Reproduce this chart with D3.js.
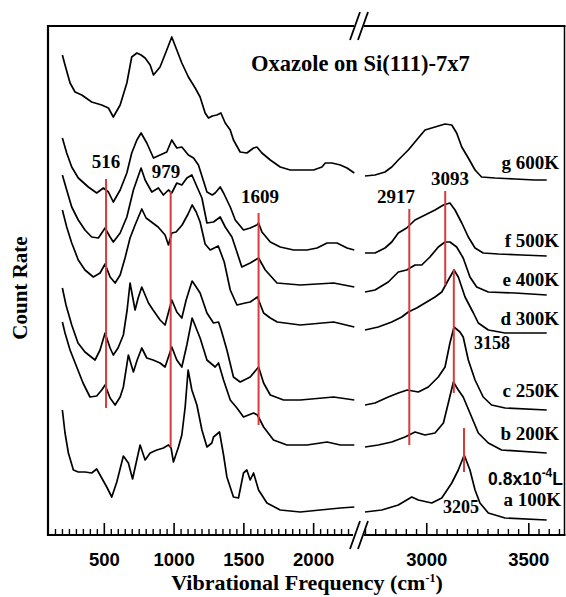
<!DOCTYPE html>
<html><head><meta charset="utf-8">
<script src="https://cdn.jsdelivr.net/npm/d3@7"></script>
<style>
html,body{margin:0;padding:0;background:#fff;}
svg{display:block;}
</style></head>
<body>
<svg id="chart" width="566" height="597"></svg>
<script>
// ---------- data (frequency cm^-1, count rate in arbitrary units) ----------
const spectrumG = [[203,480],[222,470],[258,452],[294,443],[342,440],[413,433],[485,430],[533,427],[568,418],[617,430],[665,452],[700,478],[737,482],[767,480],[796,477],[832,470],[856,460],[903,468],[951,485],[987,498],[1023,485],[1059,472],[1106,458],[1155,447],[1190,438],[1226,422],[1250,417],[1277,419],[1310,420],[1339,422],[1370,412],[1406,405],[1429,395],[1477,383],[1525,382],[1573,387],[1597,388],[1633,382],[1693,375],[1764,368],[1836,365],[1908,365],[2003,365],[2063,368],[2087,372],[2135,372],[2195,370],[2243,367],[2295,362],
[2700,359],[2749,360],[2798,363],[2831,368],[2863,375],[2912,385],[2961,397],[2994,405],[3043,408],[3092,411],[3125,410],[3149,402],[3174,388],[3206,377],[3239,365],[3271,358],[3337,357],[3435,356],[3532,355],[3590,355]];

const spectrumF = [[203,397],[234,382],[270,368],[317,357],[389,348],[449,342],[497,347],[533,343],[568,333],[617,345],[665,362],[700,382],[737,395],[767,402],[808,392],[856,377],[903,380],[951,383],[987,395],[1023,387],[1059,388],[1106,380],[1143,377],[1178,370],[1212,355],[1239,343],[1277,340],[1298,342],[1334,348],[1358,342],[1406,328],[1442,315],[1501,305],[1549,307],[1597,310],[1609,312],[1633,303],[1693,293],[1764,288],[1860,285],[1956,285],[2028,287],[2100,292],[2171,292],[2243,287],[2295,285],
[2700,282],[2749,282],[2798,287],[2831,293],[2863,302],[2904,307],[2945,315],[2994,320],[3043,325],[3084,330],[3116,332],[3141,325],[3174,312],[3206,298],[3239,287],[3279,282],[3353,281],[3467,280],[3590,279]];

const spectrumE = [[203,360],[234,345],[270,328],[317,315],[365,305],[413,298],[461,297],[509,307],[545,298],[568,293],[617,302],[665,318],[712,345],[767,367],[796,355],[844,343],[891,347],[927,340],[963,345],[987,342],[1023,352],[1059,350],[1095,357],[1131,360],[1162,350],[1203,337],[1239,312],[1286,313],[1334,318],[1370,308],[1418,298],[1449,285],[1489,268],[1549,272],[1609,277],[1657,265],[1741,252],[1908,250],[2147,252],[2295,248],
[2700,243],[2749,245],[2814,253],[2863,263],[2904,265],[2945,270],[2978,270],[3018,278],[3059,288],[3092,293],[3116,293],[3149,288],[3181,277],[3214,258],[3247,248],[3304,243],[3435,242],[3590,240]];

const spectrumD = [[203,325],[234,308],[270,292],[317,275],[365,265],[425,258],[473,262],[509,271],[545,258],[581,252],[617,260],[652,277],[688,297],[724,310],[772,326],[803,317],[832,314],[889,308],[939,300],[963,290],[987,302],[1018,303],[1061,310],[1104,321],[1133,330],[1162,323],[1190,313],[1226,291],[1262,285],[1320,289],[1363,273],[1406,245],[1454,230],[1513,232],[1549,233],[1601,238],[1645,222],[1693,217],[1743,213],[1908,210],[2147,213],[2295,208],
[2700,205],[2765,208],[2831,213],[2880,218],[2912,223],[2953,227],[2994,232],[3043,238],[3076,243],[3108,255],[3136,265],[3157,258],[3190,238],[3231,222],[3255,212],[3304,205],[3386,202],[3500,202],[3590,202]];

const spectrumC = [[203,247],[229,230],[270,210],[315,192],[365,183],[437,175],[473,185],[509,202],[545,187],[568,180],[602,187],[640,200],[667,225],[688,252],[724,225],[746,237],[772,248],[820,232],[853,225],[903,215],[939,210],[987,235],[1023,223],[1059,217],[1090,235],[1119,248],[1133,254],[1162,248],[1190,242],[1239,222],[1286,212],[1322,213],[1341,205],[1382,185],[1429,158],[1477,153],[1549,158],[1609,168],[1645,152],[1693,140],[1788,135],[1908,135],[2147,138],[2295,135],
[2700,130],[2749,132],[2814,138],[2863,142],[2907,145],[2961,143],[3010,148],[3059,158],[3092,168],[3116,192],[3136,208],[3165,203],[3181,198],[3206,175],[3239,155],[3279,138],[3320,130],[3386,127],[3590,125]];

const spectrumB = [[203,213],[222,202],[258,185],[306,168],[351,152],[401,138],[449,139],[485,145],[509,150],[545,137],[581,130],[617,138],[640,148],[676,180],[712,163],[739,175],[772,187],[808,177],[853,175],[903,172],[939,168],[987,188],[1023,175],[1059,168],[1095,190],[1133,217],[1167,205],[1190,197],[1239,175],[1298,168],[1322,172],[1358,155],[1406,135],[1454,127],[1501,118],[1573,122],[1601,120],[1645,108],[1716,95],[1812,90],[1956,90],[2100,93],[2195,90],[2295,90],
[2700,88],[2765,90],[2831,93],[2896,98],[2945,103],[2994,100],[3043,102],[3084,112],[3108,132],[3133,153],[3157,145],[3181,138],[3214,122],[3255,102],[3304,92],[3369,85],[3590,82]];

const spectrumA = [[203,125],[222,102],[246,82],[282,65],[317,63],[365,63],[413,62],[449,66],[485,57],[521,48],[557,38],[593,53],[640,79],[676,72],[706,56],[760,90],[796,75],[832,82],[880,85],[927,87],[963,90],[982,87],[999,73],[1035,88],[1059,100],[1083,128],[1104,165],[1131,145],[1167,130],[1203,105],[1239,88],[1274,92],[1286,98],[1329,103],[1358,80],[1382,58],[1429,38],[1465,37],[1501,62],[1525,65],[1549,55],[1573,62],[1609,45],[1669,32],[1764,25],[1908,23],[2051,25],[2195,27],[2295,28],
[2700,23],[2782,25],[2863,30],[2929,38],[2961,35],[3027,32],[3076,37],[3125,52],[3157,65],[3186,80],[3214,65],[3239,45],[3263,32],[3304,22],[3386,17],[3590,15]];

const seriesLabels = ["a 100K","b 200K","c 250K","d 300K","e 400K","f 500K","g 600K"];
const seriesData = [spectrumA, spectrumB, spectrumC, spectrumD, spectrumE, spectrumF, spectrumG];

// assignment markers (red lines): label, position on the frequency axis, count-range spanned
const markerLabels = ["516","979","1609","2917","3093","3158","3205"];
const markerFreq   = [516, 979, 1609, 2917, 3093, 3135, 3185];
const markerTop    = [356, 344, 322, 326, 344, 265, 107];
const markerBottom = [127, 88, 110, 90, 250, 142, 63];

const tickMajorLow = [500, 1000, 1500, 2000];
const tickMajorHigh = [3000, 3500];
const tickMinorLow = d3.range(150, 2300, 50).filter(v => v % 500 !== 0);
const tickMinorHigh = d3.range(2700, 3661, 50).filter(v => v % 500 !== 0);

// ---------- layout ----------
const svg = d3.select("#chart");
const fLeft = 48, fRight = 564.5, fTop = 26, fBottom = 535;
const breakL = 355, breakR = 365;
const xL = d3.scaleLinear().domain([100, 2300]).range([fLeft, breakL]);
const xR = d3.scaleLinear().domain([2700, 3660]).range([breakR, 561]);
const y = d3.scaleLinear().domain([0, 509]).range([fBottom, fTop]);

const serif = '"Liberation Serif","Times New Roman",serif';
const sans = '"Liberation Sans",Arial,sans-serif';

// frame
svg.append("line").attr("x1", fLeft).attr("x2", fLeft).attr("y1", fTop - 1).attr("y2", fBottom + 1)
  .attr("stroke", "#000").attr("stroke-width", 2.2);
svg.append("line").attr("x1", fRight).attr("x2", fRight).attr("y1", fTop).attr("y2", fBottom)
  .attr("stroke", "#000").attr("stroke-width", 1.5);
svg.append("line").attr("x1", fLeft - 1).attr("x2", breakL - 1).attr("y1", fTop).attr("y2", fTop)
  .attr("stroke", "#000").attr("stroke-width", 2);
svg.append("line").attr("x1", breakR - 1).attr("x2", fRight + 1).attr("y1", fTop).attr("y2", fTop)
  .attr("stroke", "#000").attr("stroke-width", 2);

// bottom axes (ticks inside)
function drawAxis(scale, minor, major, x0, x1) {
  const gMin = svg.append("g").attr("transform", `translate(0,${fBottom})`)
    .call(d3.axisBottom(scale).tickValues(minor).tickSizeInner(-6).tickSizeOuter(0).tickFormat(() => ""));
  gMin.select(".domain").remove();
  gMin.selectAll(".tick line").attr("stroke", "#000").attr("stroke-width", 1.4);
  const gMaj = svg.append("g").attr("transform", `translate(0,${fBottom})`)
    .call(d3.axisBottom(scale).tickValues(major).tickSizeInner(-12).tickSizeOuter(0)
      .tickPadding(18).tickFormat(d3.format("d")));
  gMaj.select(".domain").remove();
  gMaj.selectAll(".tick line").attr("stroke", "#000").attr("stroke-width", 1.6);
  gMaj.selectAll(".tick text").attr("font-family", sans).attr("font-weight", "bold")
    .attr("font-size", "18.5px").attr("fill", "#000");
  svg.append("line").attr("x1", x0).attr("x2", x1).attr("y1", fBottom).attr("y2", fBottom)
    .attr("stroke", "#000").attr("stroke-width", 2.2);
}
drawAxis(xL, tickMinorLow, tickMajorLow, fLeft - 1, breakL - 2);
drawAxis(xR, tickMinorHigh, tickMajorHigh, breakR - 1, fRight + 1);

// break marks
function breakMark(cx, cy) {
  [-4, 4].forEach(dx => {
    svg.append("line").attr("x1", cx + dx - 5).attr("y1", cy + 14)
      .attr("x2", cx + dx + 5).attr("y2", cy - 14)
      .attr("stroke", "#000").attr("stroke-width", 1.8);
  });
}
breakMark(359, fTop);
breakMark(359, fBottom);

// spectra
const lineL = d3.line().x(d => xL(d[0])).y(d => y(d[1]));
const lineR = d3.line().x(d => xR(d[0])).y(d => y(d[1]));
seriesData.forEach(data => {
  svg.append("path").datum(data.filter(d => d[0] < 2500)).attr("d", lineL)
    .attr("fill", "none").attr("stroke", "#000").attr("stroke-width", 1.7).attr("stroke-linejoin", "round");
  svg.append("path").datum(data.filter(d => d[0] > 2500)).attr("d", lineR)
    .attr("fill", "none").attr("stroke", "#000").attr("stroke-width", 1.7).attr("stroke-linejoin", "round");
});

// red marker lines
markerFreq.forEach((f, i) => {
  const xs = f < 2500 ? xL(f) : xR(f);
  svg.append("line").attr("x1", xs).attr("x2", xs)
    .attr("y1", y(markerTop[i])).attr("y2", y(markerBottom[i]))
    .attr("stroke", "#d93a3a").attr("stroke-width", 2);
});

// marker labels
const markerLabelPos = [[106,168],[166,178],[260,203],[396,203],[450,185],[492,349],[461,513]];
markerLabels.forEach((t, i) => {
  svg.append("text").attr("x", markerLabelPos[i][0]).attr("y", markerLabelPos[i][1])
    .attr("text-anchor", "middle").attr("font-family", serif).attr("font-weight", "bold")
    .attr("font-size", i >= 5 ? "18px" : "19px").text(t);
});

// series labels
const seriesLabelY = [506, 440, 397, 325, 286, 247, 169];
seriesLabels.forEach((t, i) => {
  svg.append("text").attr("x", i === 0 ? 561 : 559).attr("y", seriesLabelY[i])
    .attr("text-anchor", "end").attr("font-family", serif).attr("font-weight", "bold")
    .attr("font-size", "19px").text(t);
});

// exposure note
const note = svg.append("text").attr("x", 563).attr("y", 485).attr("text-anchor", "end")
  .attr("font-family", sans).attr("font-weight", "bold").attr("font-size", "17.5px");
note.append("tspan").text("0.8x10");
note.append("tspan").attr("dy", -8).attr("font-size", "12px").text("-4");
note.append("tspan").attr("dy", 8).text("L");

// title
svg.append("text").attr("x", 251).attr("y", 71).attr("font-family", serif)
  .attr("font-weight", "bold").attr("font-size", "22.5px").text("Oxazole on Si(111)-7x7");

// axis titles
const xt = svg.append("text").attr("x", 307).attr("y", 590).attr("text-anchor", "middle")
  .attr("font-family", serif).attr("font-weight", "bold").attr("font-size", "22px");
xt.append("tspan").text("Vibrational Frequency (cm");
xt.append("tspan").attr("dy", -8).attr("font-size", "12px").text("-1");
xt.append("tspan").attr("dy", 8).text(")");

svg.append("text").attr("transform", "translate(27,288) rotate(-90)").attr("text-anchor", "middle")
  .attr("font-family", serif).attr("font-weight", "bold").attr("font-size", "21px").text("Count Rate");
</script>
</body></html>
